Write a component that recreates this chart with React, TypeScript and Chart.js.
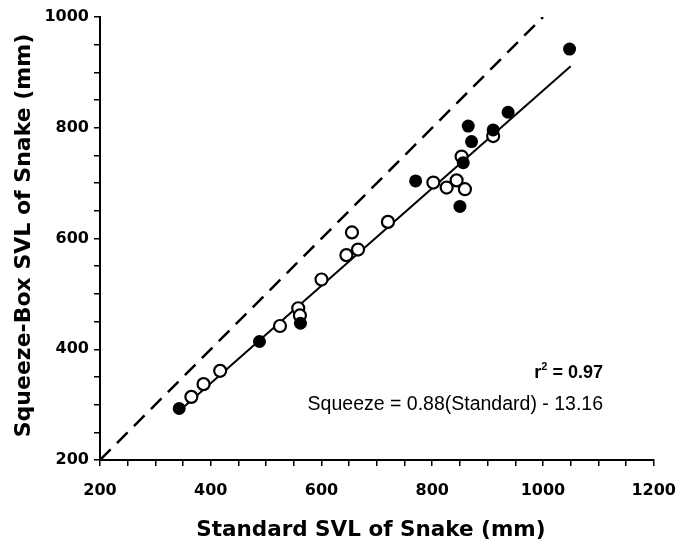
import React, { useEffect, useRef } from "react";
import { Chart, registerables } from "chart.js";

Chart.register(...registerables);

// Filled circles (standard SVL, squeeze-box SVL), mm
const filledX = [343, 488, 562, 770, 850, 856, 865, 871, 910, 937, 1048];
const filledY = [293, 414, 447, 704, 658, 737, 803, 775, 796, 828, 942];

// Open circles
const openX = [365, 387, 417, 525, 558, 561, 600, 645, 655, 666, 720, 802, 826, 844, 859, 853, 910];
const openY = [314, 337, 361, 442, 474, 461, 526, 570, 611, 580, 630, 701, 692, 705, 689, 748, 785];

// Regression line endpoints (Squeeze = 0.88(Standard) - 13.16)
const regX = [340, 1050];
const regY = [286, 911];

// Line of equality
const idX = [200, 1000];
const idY = [200, 1000];

const xTitle = "Standard SVL of Snake (mm)";
const yTitle = "Squeeze-Box SVL of Snake (mm)";
const r2Label = "0.97";
const eqLabel = "Squeeze = 0.88(Standard) - 13.16";

const zip = (xs: number[], ys: number[]) => xs.map((x, i) => ({ x, y: ys[i] }));

const textPlugin = {
  id: "customText",
  afterDraw(chart: any) {
    const ctx = chart.ctx as CanvasRenderingContext2D;
    const ca = chart.chartArea;
    ctx.save();
    ctx.fillStyle = "#000";
    // x title
    ctx.font = "bold 21.5px 'DejaVu Sans'";
    ctx.textAlign = "center";
    ctx.textBaseline = "middle";
    ctx.fillText(xTitle, (ca.left + ca.right) / 2 - 6, 530);
    // y title
    ctx.save();
    ctx.translate(24, (ca.top + ca.bottom) / 2 - 3);
    ctx.rotate(-Math.PI / 2);
    ctx.font = "bold 22px 'DejaVu Sans'";
    ctx.fillText(yTitle, 0, 0);
    ctx.restore();
    // r^2 annotation (right aligned)
    const right = ca.left + 503;
    ctx.textAlign = "left";
    ctx.textBaseline = "alphabetic";
    ctx.font = "bold 18px 'Liberation Sans'";
    const rest = " = " + r2Label;
    const wRest = ctx.measureText(rest).width;
    ctx.font = "bold 11px 'Liberation Sans'";
    const w2 = ctx.measureText("2").width;
    ctx.font = "bold 18px 'Liberation Sans'";
    const wr = ctx.measureText("r").width;
    const x0 = right - wRest - w2 - wr;
    const base = 378;
    ctx.fillText("r", x0, base);
    ctx.font = "bold 11px 'Liberation Sans'";
    ctx.fillText("2", x0 + wr, base - 8);
    ctx.font = "bold 18px 'Liberation Sans'";
    ctx.fillText(rest, x0 + wr + w2, base);
    // equation
    ctx.font = "19.5px 'Liberation Sans'";
    ctx.textAlign = "right";
    ctx.fillText(eqLabel, right, 410);
    ctx.restore();
  },
};

export default function App() {
  const ref = useRef<HTMLCanvasElement>(null);
  useEffect(() => {
    if (!ref.current) return;
    const axisCommon = {
      type: "linear" as const,
      ticks: {
        stepSize: 50,
        autoSkip: false,
        maxRotation: 0,
        color: "#000",
        font: { family: "'DejaVu Sans'", weight: "bold" as const, size: 16 },
        callback: (v: any) => (Number(v) % 200 === 0 ? String(v) : ""),
      },
      grid: {
        display: true,
        drawOnChartArea: false,
        drawTicks: true,
        tickLength: 6,
        color: "#000",
        lineWidth: 1.5,
      },
      border: { display: true, color: "#000", width: 2 },
    };
    const chart = new Chart(ref.current, {
      type: "scatter",
      data: {
        datasets: [
          {
            label: "filled",
            data: zip(filledX, filledY),
            backgroundColor: "#000",
            borderColor: "#000",
            pointRadius: 6.5,
            borderWidth: 0,
            order: 0,
          },
          {
            label: "open",
            data: zip(openX, openY),
            backgroundColor: "#fff",
            borderColor: "#000",
            pointRadius: 6,
            borderWidth: 2.2,
            order: 1,
          },
          {
            type: "line",
            label: "regression",
            data: zip(regX, regY),
            borderColor: "#000",
            borderWidth: 2,
            pointRadius: 0,
            fill: false,
            order: 2,
          } as any,
          {
            type: "line",
            label: "equality",
            data: zip(idX, idY),
            borderColor: "#000",
            borderWidth: 2.5,
            borderDash: [15, 9],
            pointRadius: 0,
            fill: false,
            order: 3,
          } as any,
        ],
      },
      options: {
        animation: false,
        responsive: false,
        layout: { padding: { top: 17, right: 37, left: 0, bottom: 0 } },
        plugins: { legend: { display: false }, tooltip: { enabled: false } },
        scales: {
          x: {
            ...axisCommon,
            min: 200,
            max: 1200,
            ticks: { ...axisCommon.ticks, padding: 15 },
            afterFit: (s: any) => {
              s.height = 84;
            },
          },
          y: {
            ...axisCommon,
            min: 200,
            max: 1000,
            ticks: { ...axisCommon.ticks, padding: 5 },
            afterFit: (s: any) => {
              s.width = 100;
            },
          },
        },
      },
      plugins: [textPlugin],
    });
    return () => chart.destroy();
  }, []);
  return (
    <div style={{ position: "absolute", left: 0, top: 0, width: 691, height: 544, background: "#fff" }}>
      <canvas ref={ref} width={691} height={544} style={{ display: "block" }} />
    </div>
  );
}
